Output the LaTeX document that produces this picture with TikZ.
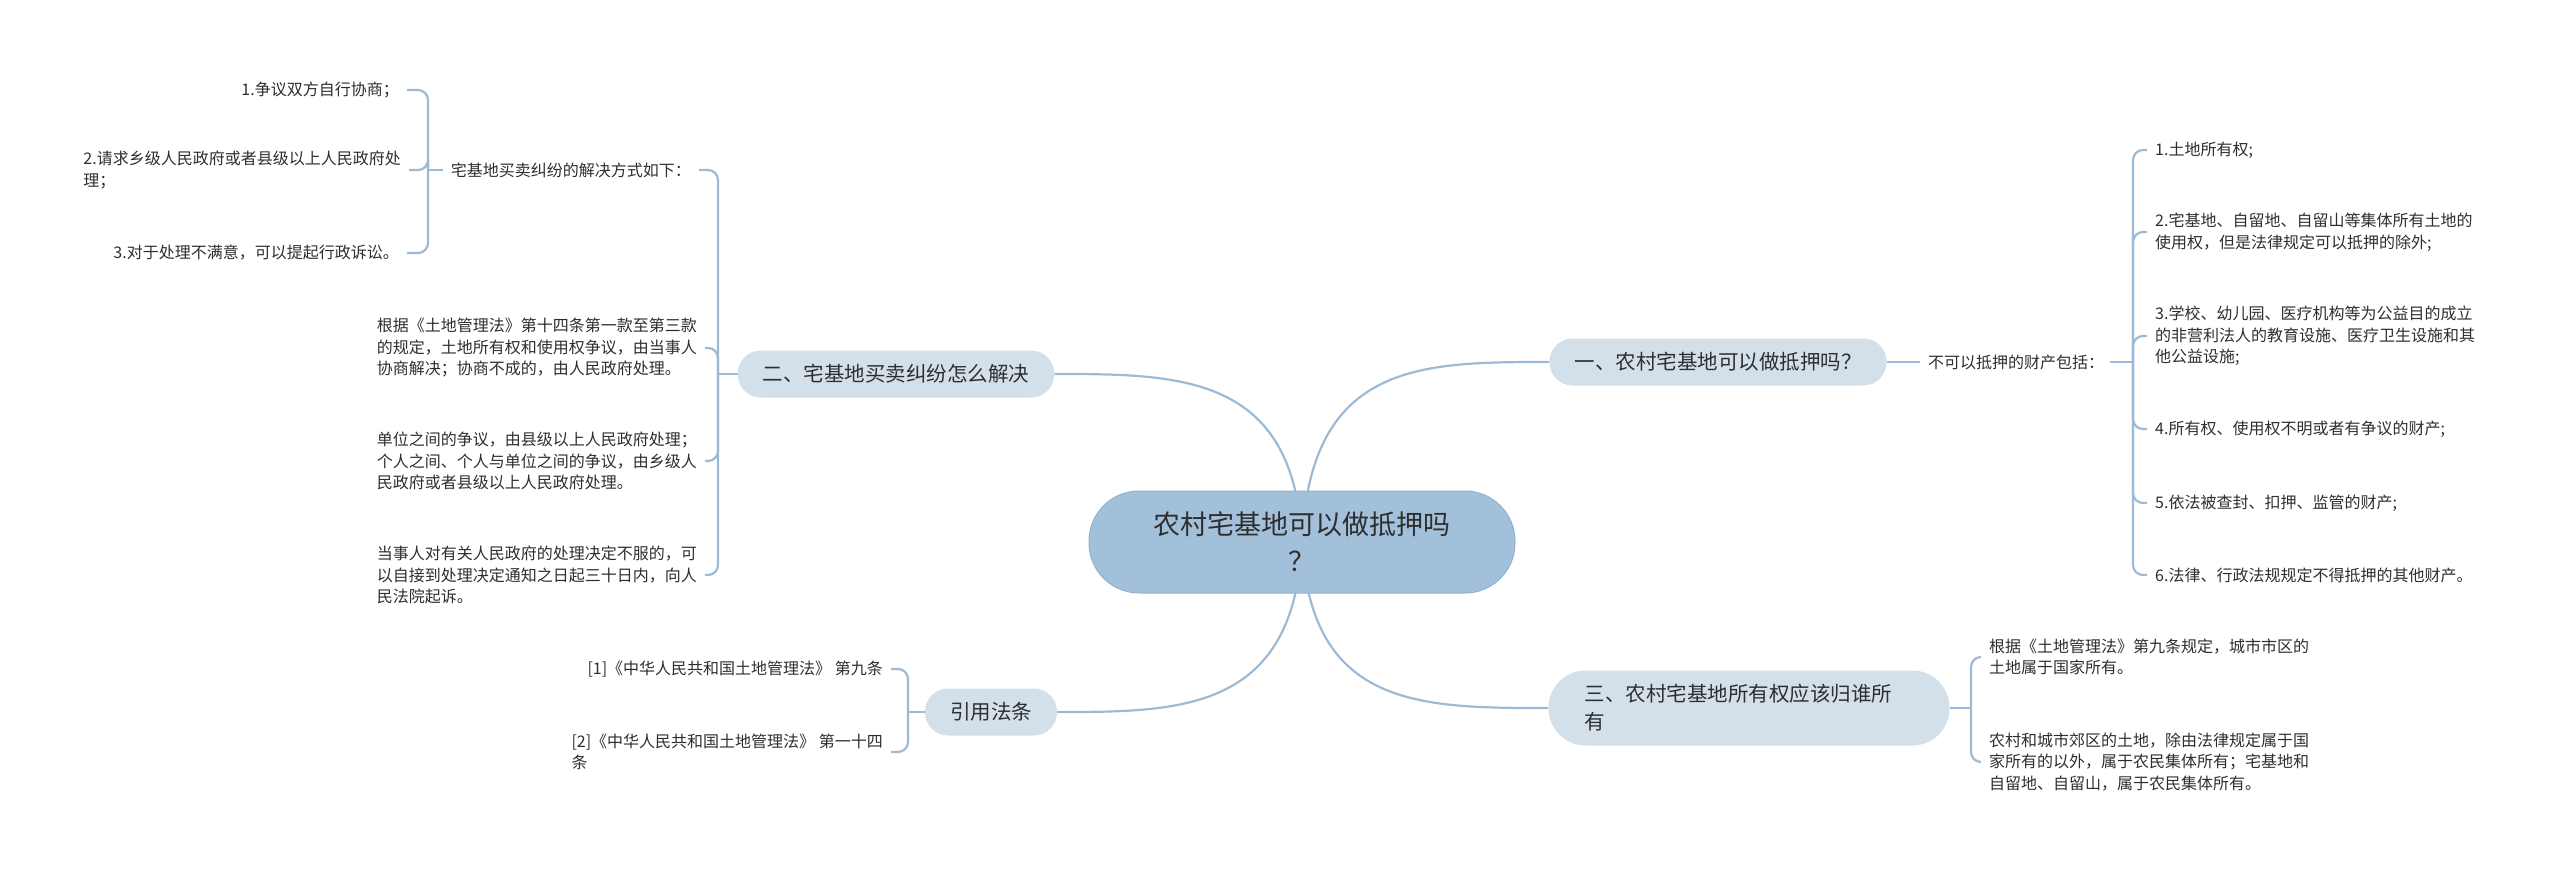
\documentclass[tikz,border=0pt]{standalone}
\usepackage{fontspec}
\setmainfont{Noto Sans CJK SC}
\usetikzlibrary{backgrounds}
\definecolor{ink}{HTML}{2E2E2E}
\definecolor{rootfill}{HTML}{A3C0DB}
\definecolor{rootedge}{HTML}{92B2D0}
\definecolor{topicfill}{HTML}{D4E0E9}
\definecolor{edge}{HTML}{9DBAD5}
\tikzset{
  root/.style={draw=rootedge,fill=rootfill,line width=1pt,rounded corners=50pt,
    minimum width=426pt,minimum height=102pt,align=center,text=ink,
    font=\fontsize{27}{37}\selectfont},
  topic/.style={fill=topicfill,rounded corners=23pt,minimum height=47pt,
    inner xsep=25pt,text=ink,font=\fontsize{20.5}{28}\selectfont},
  leaf/.style={inner sep=0pt,align=left,text=ink,font=\fontsize{16}{21.5}\selectfont},
  link/.style={draw=edge,line width=2.2pt},
  brace/.style={link,rounded corners=10pt,shorten >=8pt}
}

\begin{document}
\begin{tikzpicture}[x=1pt,y=-1pt]
  \useasboundingbox (0,0) rectangle (2560,871);
  \node[root] (root) at (1302,542) {农村宅基地可以做抵押吗\\？};

  \node[topic] (t1) at (1718,362) {一、农村宅基地可以做抵押吗？};
  \node[leaf,anchor=west] (s1) at (1928,362) {不可以抵押的财产包括：};
  \coordinate (h1) at (2133,362);
  \node[leaf,anchor=west] (l11) at (2155,150) {1.土地所有权;};
  \node[leaf,anchor=west] (l12) at (2155,232)
    {2.宅基地、自留地、自留山等集体所有土地的\\使用权，但是法律规定可以抵押的除外;};
  \node[leaf,anchor=west] (l13) at (2155,336)
    {3.学校、幼儿园、医疗机构等为公益目的成立\\的非营利法人的教育设施、医疗卫生设施和其\\他公益设施;};
  \node[leaf,anchor=west] (l14) at (2155,429) {4.所有权、使用权不明或者有争议的财产;};
  \node[leaf,anchor=west] (l15) at (2155,503) {5.依法被查封、扣押、监管的财产;};
  \node[leaf,anchor=west] (l16) at (2155,575) {6.法律、行政法规规定不得抵押的其他财产。};

  \node[topic] (t2) at (896,374) {二、宅基地买卖纠纷怎么解决};
  \coordinate (h2) at (718,374);
  \node[leaf,anchor=east] (s2) at (691,170) {宅基地买卖纠纷的解决方式如下：};
  \coordinate (h21) at (428,170);
  \node[leaf,anchor=east] (l211) at (399,90) {1.争议双方自行协商；};
  \node[leaf,anchor=east] (l212) at (401,170)
    {2.请求乡级人民政府或者县级以上人民政府处\\理；};
  \node[leaf,anchor=east] (l213) at (399,253) {3.对于处理不满意，可以提起行政诉讼。};
  \node[leaf,anchor=east] (l21) at (697,348)
    {根据《土地管理法》第十四条第一款至第三款\\的规定，土地所有权和使用权争议，由当事人\\协商解决；协商不成的，由人民政府处理。};
  \node[leaf,anchor=east] (l22) at (697,461)
    {单位之间的争议，由县级以上人民政府处理；\\个人之间、个人与单位之间的争议，由乡级人\\民政府或者县级以上人民政府处理。};
  \node[leaf,anchor=east] (l23) at (697,575)
    {当事人对有关人民政府的处理决定不服的，可\\以自接到处理决定通知之日起三十日内，向人\\民法院起诉。};

  \node[topic,align=left,text width=329pt,inner xsep=36pt,minimum height=75pt,
    rounded corners=37pt] (t3) at (1749,708) {三、农村宅基地所有权应该归谁所\\有};
  \coordinate (h3) at (1971,708);
  \node[leaf,anchor=west] (l31) at (1989,657)
    {根据《土地管理法》第九条规定，城市市区的\\土地属于国家所有。};
  \node[leaf,anchor=west] (l32) at (1989,762)
    {农村和城市郊区的土地，除由法律规定属于国\\家所有的以外，属于农民集体所有；宅基地和\\自留地、自留山，属于农民集体所有。};

  \node[topic] (t4) at (991,712) {引用法条};
  \coordinate (h4) at (908,712);
  \node[leaf,anchor=east] (l41) at (883,669) {[1]《中华人民共和国土地管理法》 第九条};
  \node[leaf,anchor=east] (l42) at (883,752)
    {[2]《中华人民共和国土地管理法》 第一十四\\条};

  \begin{scope}[on background layer]
    \draw[link] (root.center) .. controls (1310,362) and (1420,362) .. (t1.west);
    \draw[link] (root.center) .. controls (1310,708) and (1420,708) .. (t3.west);
    \draw[link] (root.center) .. controls (1294,374) and (1180,374) .. (t2.east);
    \draw[link] (root.center) .. controls (1294,712) and (1180,712) .. (t4.east);
  \end{scope}

  \draw[link,shorten >=8pt] (t1.east) -- (s1.west);
  \draw[link,shorten <=6pt] (s1.east) -- (h1);
  \foreach \n in {l11,l12,l13,l14,l15,l16}
    \draw[brace] (h1) |- (\n.west);

  \draw[link] (t2.west) -- (h2);
  \foreach \n in {s2,l21,l22,l23}
    \draw[brace] (h2) |- (\n.east);
  \draw[link,shorten <=8pt] (s2.west) -- (h21);
  \foreach \n in {l211,l212,l213}
    \draw[brace] (h21) |- (\n.east);

  \draw[link] (t3.east) -- (h3);
  \foreach \n in {l31,l32}
    \draw[brace] (h3) |- (\n.west);

  \draw[link] (t4.west) -- (h4);
  \foreach \n in {l41,l42}
    \draw[brace] (h4) |- (\n.east);
\end{tikzpicture}
\end{document}
